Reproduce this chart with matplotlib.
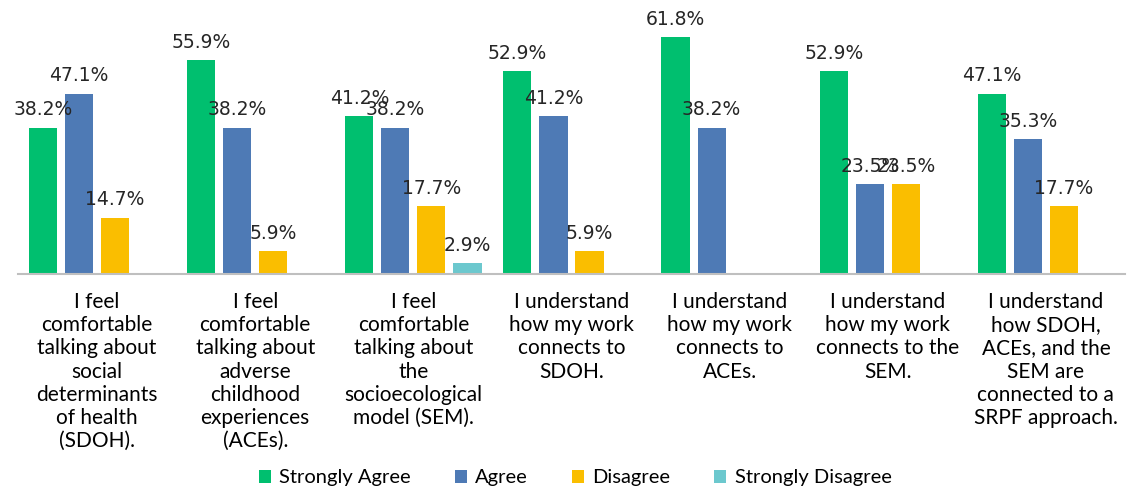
#!/usr/bin/env python3
# Survey responses: comfort / understanding of SDOH, ACEs and SEM
import numpy as np
import matplotlib
matplotlib.use("Agg")
import matplotlib.pyplot as plt

# categories and series values (percent)
categories = [
    "I feel\ncomfortable\ntalking about\nsocial\ndeterminants\nof health\n(SDOH).",
    "I feel\ncomfortable\ntalking about\nadverse\nchildhood\nexperiences\n(ACEs).",
    "I feel\ncomfortable\ntalking about\nthe\nsocioecological\nmodel (SEM).",
    "I understand\nhow my work\nconnects to\nSDOH.",
    "I understand\nhow my work\nconnects to\nACEs.",
    "I understand\nhow my work\nconnects to the\nSEM.",
    "I understand\nhow SDOH,\nACEs, and the\nSEM are\nconnected to a\nSRPF approach.",
]
series_names = ["Strongly Agree", "Agree", "Disagree", "Strongly Disagree"]
strongly_agree = [38.2, 55.9, 41.2, 52.9, 61.8, 52.9, 47.1]
agree = [47.1, 38.2, 38.2, 41.2, 38.2, 23.5, 35.3]
disagree = [14.7, 5.9, 17.7, 5.9, 0, 23.5, 17.7]
strongly_disagree = [0, 0, 2.9, 0, 0, 0, 0]

colors = ["#00BF6F", "#4E7AB5", "#FABE00", "#6CC8CE"]

fig = plt.figure(figsize=(11.32, 4.88), dpi=100)
ax = fig.add_axes([18 / 1132, 214 / 488, 1107 / 1132, 268 / 488])

x = np.arange(len(categories))
step = 0.228
width = 0.178
all_series = [strongly_agree, agree, disagree, strongly_disagree]

for i, (vals, name, col) in enumerate(zip(all_series, series_names, colors)):
    pos = x + (i - 1.5) * step
    bars = ax.bar(pos, vals, width, color=col, label=name)
    for b, v in zip(bars, vals):
        if v > 0:
            ax.annotate(f"{v:.1f}%", (b.get_x() + b.get_width() / 2, v),
                        xytext=(0, 6), textcoords="offset points",
                        ha="center", va="bottom", fontsize=13.5,
                        color="#262626", family="DejaVu Sans")

ax.set_xlim(-0.5, len(categories) - 0.5)
ax.set_ylim(0, 70)
ax.set_yticks([])
ax.set_xticks([])
for s in ["top", "right", "left"]:
    ax.spines[s].set_visible(False)
ax.spines["bottom"].set_color("#BFBFBF")
ax.spines["bottom"].set_linewidth(1.5)

# category labels under the bars
for xi, cat in zip(x, categories):
    ax.annotate(cat, (xi, 0), xytext=(0, -13), textcoords="offset points",
                ha="center", va="top", fontsize=15, family="Lato",
                color="#000000", linespacing=1.2)

fig.legend(loc="center", bbox_to_anchor=(0.508, 1 - 478 / 488),
           ncol=4, frameon=False,
           prop={"family": "Lato", "size": 14.5},
           handlelength=0.6, handleheight=0.6, handletextpad=0.4,
           columnspacing=2.2)

fig.savefig("out.png", dpi=100)
